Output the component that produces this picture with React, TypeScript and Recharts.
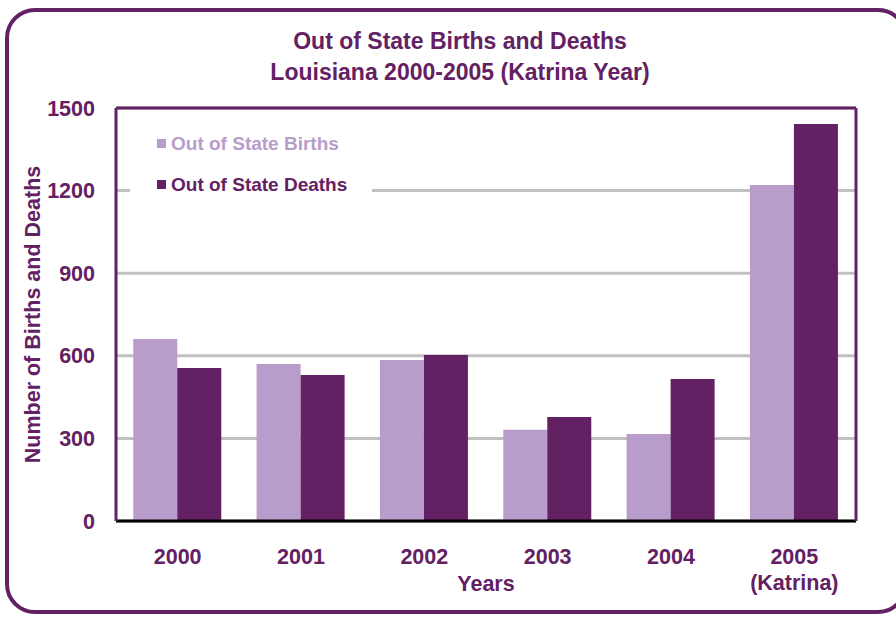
import React from 'react';
import {
  BarChart,
  Bar,
  XAxis,
  YAxis,
  CartesianGrid,
  ReferenceLine,
} from 'recharts';

const years = ['2000', '2001', '2002', '2003', '2004', '2005'];
const births = [661, 570, 585, 331, 316, 1220];
const deaths = [556, 530, 603, 378, 516, 1442];
const yTicks = [0, 300, 600, 900, 1200, 1500];

const PURPLE = '#632062';
const LILAC = '#b89ccb';
const FONT = '"Liberation Sans", Arial, sans-serif';

const data = years.map((year, i) => ({
  year,
  births: births[i],
  deaths: deaths[i],
}));

const legendItems = [
  { label: 'Out of State Births', color: LILAC },
  { label: 'Out of State Deaths', color: PURPLE },
];

const XTick = (props: any) => {
  const { x, y, payload } = props;
  const isKatrina = payload.value === '2005';
  return (
    <text
      x={x}
      y={y + 35}
      textAnchor="middle"
      fill={PURPLE}
      fontSize={21.5}
      fontWeight="bold"
      fontFamily={FONT}
    >
      <tspan x={x}>{payload.value}</tspan>
      {isKatrina && (
        <tspan x={x} dy={26}>
          (Katrina)
        </tspan>
      )}
    </text>
  );
};

const LegendBox = () => (
  <div
    style={{
      position: 'absolute',
      left: 130,
      top: 121,
      width: 242,
      background: '#fff',
      padding: '2px 0 4px 0',
    }}
  >
    {legendItems.map(item => (
      <div
        key={item.label}
        style={{
          display: 'flex',
          alignItems: 'center',
          height: 41,
          paddingLeft: 27,
          fontFamily: FONT,
          fontWeight: 'bold',
          fontSize: 19,
          color: item.color,
        }}
      >
        <span
          style={{
            display: 'inline-block',
            width: 9,
            height: 9,
            background: item.color,
            marginRight: 5,
          }}
        />
        {item.label}
      </div>
    ))}
  </div>
);

export default function App() {
  return (
    <div style={{ position: 'absolute', left: 0, top: 0, width: 896, height: 617, overflow: 'hidden', background: '#fff' }}>
      <div
        style={{
          position: 'absolute',
          left: 5,
          top: 8,
          width: 895,
          height: 598,
          border: `4px solid ${PURPLE}`,
          borderRadius: 30,
        }}
      />
      <div
        style={{
          position: 'absolute',
          left: 0,
          top: 26,
          width: 920,
          textAlign: 'center',
          color: PURPLE,
          fontFamily: FONT,
          fontWeight: 'bold',
          fontSize: 23,
          lineHeight: '31px',
        }}
      >
        <div>Out of State Births and Deaths</div>
        <div>Louisiana 2000-2005 (Katrina Year)</div>
      </div>
      <div style={{ position: 'absolute', left: 0, top: 0 }}>
        <BarChart
          width={896}
          height={617}
          data={data}
          margin={{ top: 108, right: 38, bottom: 26, left: 56 }}
          barCategoryGap="14%"
          barGap={0}
        >
          <CartesianGrid vertical={false} stroke="#c0c0c0" strokeWidth={3} />
          <XAxis
            dataKey="year"
            height={70}
            tickLine={false}
            axisLine={{ stroke: '#000', strokeWidth: 3 }}
            tick={<XTick />}
            interval={0}
            label={{
              content: (p: any) => {
                const vb = p.viewBox;
                return (
                  <text
                    x={vb.x + vb.width / 2}
                    y={vb.y + 70}
                    textAnchor="middle"
                    fill={PURPLE}
                    fontSize={21.5}
                    fontWeight="bold"
                    fontFamily={FONT}
                  >
                    Years
                  </text>
                );
              },
            }}
          />
          <YAxis
            width={60}
            domain={[0, 1500]}
            ticks={yTicks}
            tickLine={false}
            axisLine={{ stroke: PURPLE, strokeWidth: 3 }}
            tick={{ fill: PURPLE, fontSize: 21.5, fontWeight: 'bold', fontFamily: FONT }}
            tickMargin={15}
            label={{
              content: (p: any) => {
                const vb = p.viewBox;
                const cx = vb.x - 23;
                const cy = vb.y + vb.height / 2;
                return (
                  <text
                    x={cx}
                    y={cy}
                    transform={`rotate(-90 ${cx} ${cy})`}
                    textAnchor="middle"
                    dominantBaseline="central"
                    fill={PURPLE}
                    fontSize={21.5}
                    fontWeight="bold"
                    fontFamily={FONT}
                  >
                    Number of Births and Deaths
                  </text>
                );
              },
            }}
          />
          <YAxis
            yAxisId="r"
            orientation="right"
            width={2}
            domain={[0, 1500]}
            tick={false}
            tickLine={false}
            axisLine={{ stroke: PURPLE, strokeWidth: 3 }}
          />
          <ReferenceLine y={1500} stroke={PURPLE} strokeWidth={3} />
          <Bar dataKey="births" name="Out of State Births" fill={LILAC} isAnimationActive={false} />
          <Bar dataKey="deaths" name="Out of State Deaths" fill={PURPLE} isAnimationActive={false} />
        </BarChart>
      </div>
      <LegendBox />
    </div>
  );
}
